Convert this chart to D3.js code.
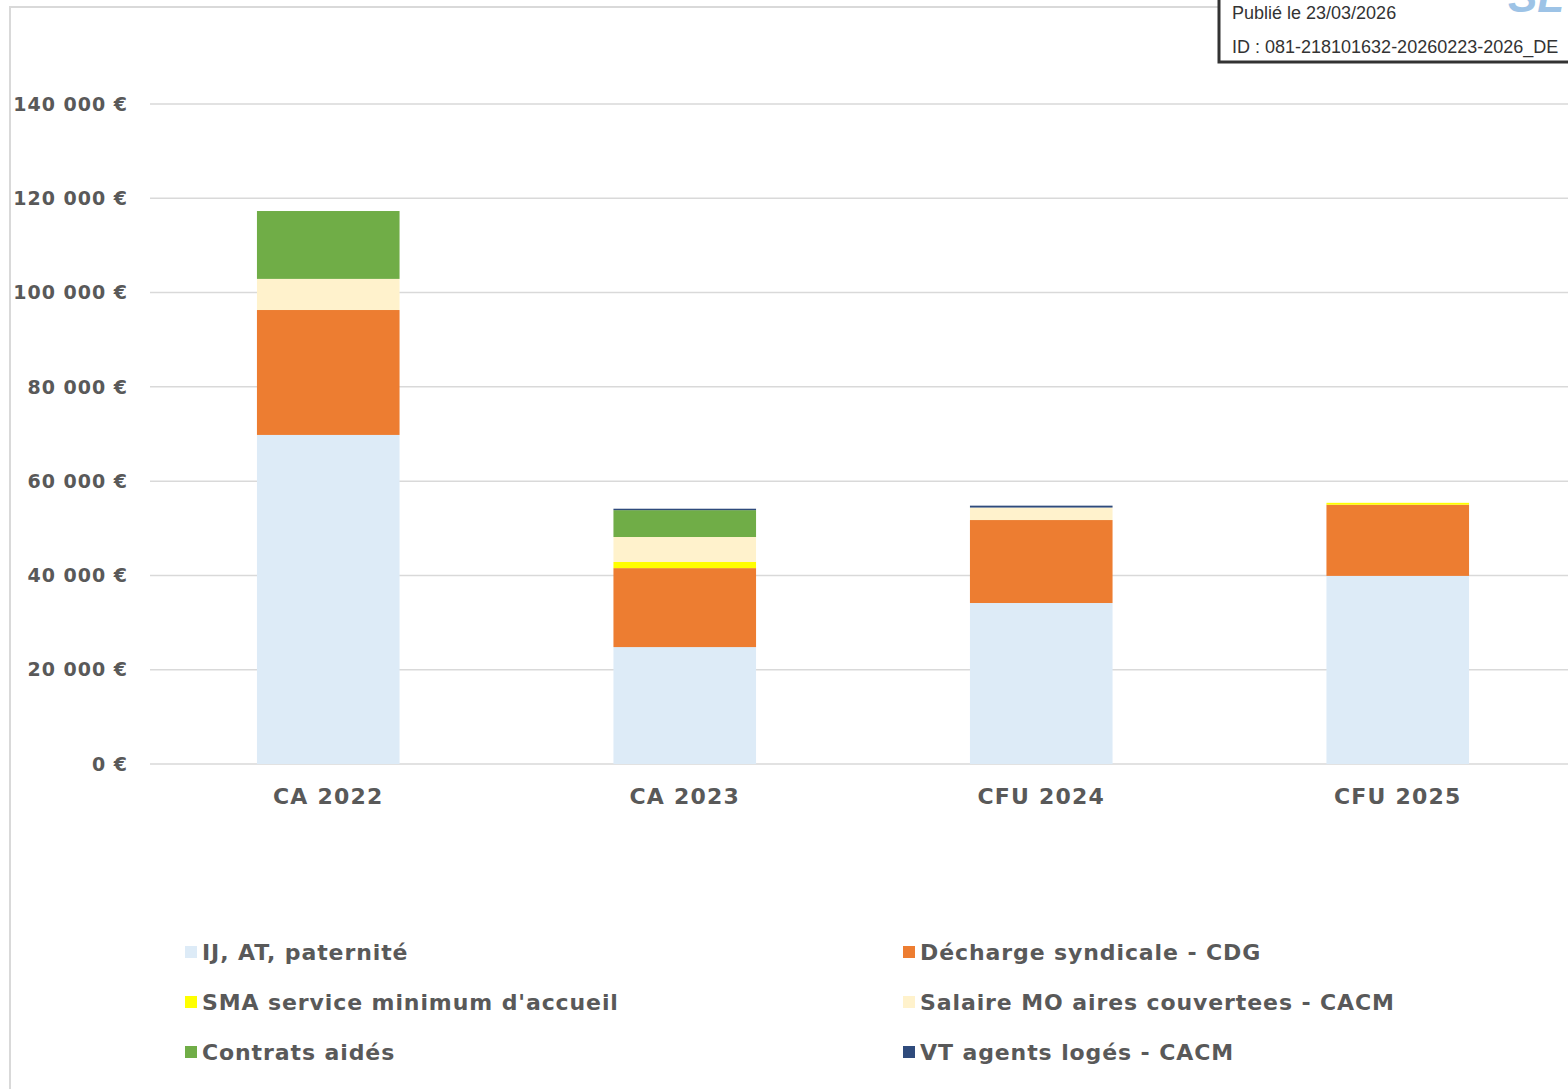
<!DOCTYPE html>
<html>
<head>
<meta charset="utf-8">
<script src="https://cdnjs.cloudflare.com/ajax/libs/d3/7.8.5/d3.min.js"></script>
<style>
  body { margin: 0; background: #fff; }
  svg { display: block; }
</style>
</head>
<body>
<div id="chart"></div>
<script>
// chart data
var categories = ["CA 2022", "CA 2023", "CFU 2024", "CFU 2025"];
var seriesNames = ["IJ, AT, paternité", "Décharge syndicale - CDG", "SMA service minimum d'accueil",
    "Salaire MO aires couvertees - CACM", "Contrats aidés", "VT agents logés - CACM"];
var seriesColours = ["#DDEBF7", "#ED7D31", "#FFFF00", "#FFF2CC", "#70AD47", "#2F4B7C"];
var ijValues = [69800, 24800, 34150, 39900];
var dechargeValues = [26500, 16750, 17600, 15100];
var smaValues = [0, 1300, 0, 400];
var salaireValues = [6600, 5300, 2650, 0];
var contratsValues = [14400, 5700, 0, 0];
var vtValues = [0, 300, 400, 0];
var yTicks = [0, 20000, 40000, 60000, 80000, 100000, 120000, 140000];

var W = 1568, H = 1089;
var textColour = "#595959";
var font = "'DejaVu Sans', Verdana, sans-serif";

var svg = d3.select("#chart").append("svg")
    .attr("width", W).attr("height", H);

// outer frame of the chart (runs off the page)
svg.append("path")
    .attr("d", "M 10 " + H + " L 10 7 L " + W + " 7")
    .attr("fill", "none")
    .attr("stroke", "#d9d9d9")
    .attr("stroke-width", 2);

var x = d3.scaleBand().domain(categories).range([150, 1576]).paddingInner(0.6).paddingOuter(0.3);
var y = d3.scaleLinear().domain([0, 140000]).range([764, 104]);

// gridlines
svg.append("g").selectAll("line").data(yTicks).enter().append("line")
    .attr("x1", 150).attr("x2", W)
    .attr("y1", function(d){ return y(d); })
    .attr("y2", function(d){ return y(d); })
    .attr("stroke", "#d9d9d9")
    .attr("stroke-width", 1.5);

// y tick labels
svg.append("g").selectAll("text").data(yTicks).enter().append("text")
    .attr("x", 128)
    .attr("y", function(d){ return y(d); })
    .attr("dy", "0.35em")
    .attr("text-anchor", "end")
    .attr("font-family", font)
    .attr("font-weight", "bold")
    .attr("font-size", 19)
    .attr("letter-spacing", 1)
    .attr("fill", textColour)
    .text(function(d){ return d3.format(",")(d).replace(/,/g, " ") + " €"; });

// stacked bars
var allSeries = [ijValues, dechargeValues, smaValues, salaireValues, contratsValues, vtValues];
var rows = categories.map(function(c, i){
    var r = {cat: c};
    allSeries.forEach(function(s, k){ r["s" + k] = s[i]; });
    return r;
});
var stack = d3.stack().keys(allSeries.map(function(s, k){ return "s" + k; }));
var layers = stack(rows);

svg.append("g").selectAll("g").data(layers).enter().append("g")
    .attr("fill", function(d, k){ return seriesColours[k]; })
    .selectAll("rect").data(function(d){ return d; }).enter().append("rect")
    .attr("x", function(d){ return x(d.data.cat); })
    .attr("width", x.bandwidth())
    .attr("y", function(d){ return y(d[1]); })
    .attr("height", function(d){ return y(d[0]) - y(d[1]); });

// x labels
svg.append("g").selectAll("text").data(categories).enter().append("text")
    .attr("x", function(d){ return x(d) + x.bandwidth() / 2; })
    .attr("y", 804)
    .attr("text-anchor", "middle")
    .attr("font-family", font)
    .attr("font-weight", "bold")
    .attr("font-size", 22)
    .attr("letter-spacing", 1.2)
    .attr("fill", textColour)
    .text(function(d){ return d; });

// legend, two columns
var legend = svg.append("g").selectAll("g").data(seriesNames).enter().append("g")
    .attr("transform", function(d, i){
        var col = i % 2, row = Math.floor(i / 2);
        return "translate(" + (col === 0 ? 185 : 903) + "," + (952 + row * 50) + ")";
    });
legend.append("rect")
    .attr("x", 0).attr("y", -6)
    .attr("width", 12).attr("height", 12)
    .attr("fill", function(d, i){ return seriesColours[i]; });
legend.append("text")
    .attr("x", 17)
    .attr("y", 0)
    .attr("dy", "0.35em")
    .attr("font-family", font)
    .attr("font-weight", "bold")
    .attr("font-size", 22)
    .attr("letter-spacing", 0.9)
    .attr("fill", textColour)
    .text(function(d){ return d; });

// publication stamp in the top right corner
svg.append("rect")
    .attr("x", 1219).attr("y", -10)
    .attr("width", 400).attr("height", 72)
    .attr("fill", "#fff")
    .attr("stroke", "#333")
    .attr("stroke-width", 3);
svg.append("text")
    .attr("x", 1508).attr("y", 12)
    .attr("font-family", "'Liberation Sans', Arial, sans-serif")
    .attr("font-weight", "bold")
    .attr("font-style", "italic")
    .attr("font-size", 44)
    .attr("fill", "#9DC3E6")
    .text("SL");
svg.append("text")
    .attr("x", 1232).attr("y", 19)
    .attr("font-family", "'Liberation Sans', Arial, sans-serif")
    .attr("font-size", 18)
    .attr("fill", "#333")
    .text("Publié le 23/03/2026");
svg.append("text")
    .attr("x", 1232).attr("y", 53)
    .attr("font-family", "'Liberation Sans', Arial, sans-serif")
    .attr("font-size", 18)
    .attr("fill", "#333")
    .text("ID : 081-218101632-20260223-2026_DE");
</script>
</body>
</html>
